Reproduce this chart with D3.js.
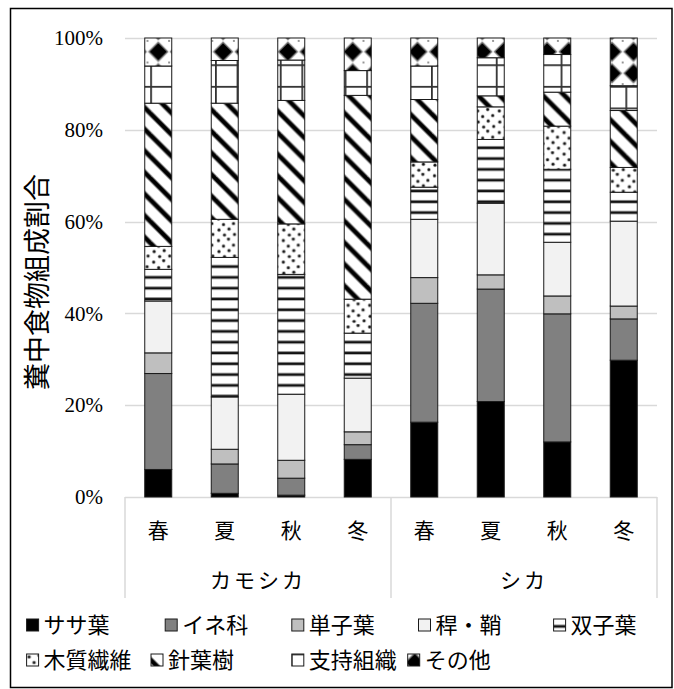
<!DOCTYPE html>
<html>
<head>
<meta charset="utf-8">
<script src="https://cdn.jsdelivr.net/npm/d3@7"></script>
<style>
  html, body { margin: 0; padding: 0; background: #fff; }
  svg { display: block; }
  .num { font-family: "Liberation Serif", "Times New Roman", serif; }
  .jp { font-family: "Noto Sans CJK JP", "Noto Sans CJK SC", sans-serif; }
</style>
</head>
<body>
<svg id="chart" width="674" height="689"></svg>
<script>
// Seasons within each animal group, and the groups themselves
const seasons = ["春", "夏", "秋", "冬"];
const species = ["カモシカ", "シカ"];

// Food component names, stacked bottom to top
const seriesNames = ["ササ葉", "イネ科", "単子葉", "稈・鞘", "双子葉", "木質繊維", "針葉樹", "支持組織", "その他"];

// Percent composition per bar: カモシカ 春夏秋冬, then シカ 春夏秋冬
const sasa      = [6.0, 0.8, 0.4, 8.2, 16.3, 20.8, 12.0, 29.8];
const ine       = [20.9, 6.4, 3.7, 3.2, 25.9, 24.5, 27.9, 9.0];
const tanshi    = [4.5, 3.2, 3.9, 2.8, 5.6, 3.1, 3.9, 2.8];
const kansho    = [11.3, 11.4, 14.4, 11.7, 12.7, 15.6, 11.7, 18.5];
const soushi    = [6.9, 30.4, 26.1, 9.8, 7.0, 13.9, 15.9, 6.3];
const mokushitsu= [5.0, 8.3, 11.0, 7.4, 5.5, 7.1, 9.4, 5.4];
const shinyou   = [31.2, 25.3, 26.9, 44.4, 13.6, 2.4, 7.4, 12.4];
const shiji     = [8.1, 9.3, 8.8, 5.4, 7.3, 8.3, 8.2, 5.4];
const sonota    = [6.1, 4.9, 4.8, 7.1, 6.1, 4.3, 3.6, 10.4];

// Y axis tick values (fraction of total)
const yTicks = [0, 0.2, 0.4, 0.6, 0.8, 1.0];

const seriesValues = [sasa, ine, tanshi, kansho, soushi, mokushitsu, shinyou, shiji, sonota];

// Build one row per bar for d3.stack
const rows = [];
species.forEach((sp, gi) => {
  seasons.forEach((se, si) => {
    const idx = gi * seasons.length + si;
    const row = { key: sp + "-" + se, species: sp, season: se };
    seriesNames.forEach((name, k) => { row[name] = seriesValues[k][idx]; });
    rows.push(row);
  });
});

const svg = d3.select("#chart");
const plotLeft = 125, plotRight = 657, plotTop = 38, plotBottom = 497;

const x = d3.scaleBand()
  .domain(rows.map(d => d.key))
  .range([plotLeft, plotRight])
  .paddingInner(0.594)
  .paddingOuter(0.297);

const y = d3.scaleLinear().domain([0, 1]).range([plotBottom, plotTop]);

// ---------- fill patterns ----------
const defs = svg.append("defs");
const T = 21.6; // tile size shared by the hatch patterns

// horizontal stripes (双子葉)
const pH = defs.append("pattern").attr("id", "pat-h")
  .attr("patternUnits", "userSpaceOnUse").attr("width", T).attr("height", T / 2)
  .attr("x", 0).attr("y", 265.7 - 1);
pH.append("rect").attr("width", T).attr("height", T / 2).attr("fill", "#fff");
pH.append("rect").attr("y", 0).attr("width", T).attr("height", 1).attr("fill", "#8a8a8a");
pH.append("rect").attr("y", 1).attr("width", T).attr("height", 2).attr("fill", "#111");
pH.append("rect").attr("y", 3).attr("width", T).attr("height", 0.8).attr("fill", "#aaa");

// dots (木質繊維)
const pD = defs.append("pattern").attr("id", "pat-dot")
  .attr("patternUnits", "userSpaceOnUse").attr("width", T).attr("height", T);
pD.append("rect").attr("width", T).attr("height", T).attr("fill", "#fff");
[[2.5, 3], [12.5, 1.5], [7.5, 8.5], [17.5, 7.5], [3, 14], [13, 13], [8.5, 19], [18.5, 18.5]]
  .forEach(([cx, cy]) => {
    pD.append("circle").attr("cx", cx).attr("cy", cy).attr("r", 1.9).attr("fill", "#999");
    pD.append("circle").attr("cx", cx).attr("cy", cy).attr("r", 1.2).attr("fill", "#111");
  });

// diagonal stripes (針葉樹)
const pG = defs.append("pattern").attr("id", "pat-diag")
  .attr("patternUnits", "userSpaceOnUse").attr("width", T).attr("height", T)
  .attr("x", 0).attr("y", 6.2);
pG.append("rect").attr("width", T).attr("height", T).attr("fill", "#fff");
[-1, 0, 1].forEach(k => {
  pG.append("line").attr("x1", -5).attr("y1", -5 + k * T).attr("x2", T + 5).attr("y2", T + 5 + k * T)
    .attr("stroke", "#777").attr("stroke-width", 5.6);
  pG.append("line").attr("x1", -5).attr("y1", -5 + k * T).attr("x2", T + 5).attr("y2", T + 5 + k * T)
    .attr("stroke", "#000").attr("stroke-width", 3.8);
});

// grid (支持組織)
const pS = defs.append("pattern").attr("id", "pat-grid")
  .attr("patternUnits", "userSpaceOnUse").attr("width", T).attr("height", T)
  .attr("x", 150.2).attr("y", 85.9);
pS.append("rect").attr("width", T).attr("height", T).attr("fill", "#fff");
pS.append("rect").attr("x", 0).attr("y", 0).attr("width", T).attr("height", 1.8).attr("fill", "#333");
pS.append("rect").attr("x", 0).attr("y", 0).attr("width", 1.8).attr("height", T).attr("fill", "#333");

// large diamonds (その他)
const pO = defs.append("pattern").attr("id", "pat-dia")
  .attr("patternUnits", "userSpaceOnUse").attr("width", T).attr("height", T)
  .attr("x", 158.3 - T / 2).attr("y", 51.7 - T / 2);
pO.append("rect").attr("width", T).attr("height", T).attr("fill", "#fff");
const h = T / 2, r = 9.6;
pO.append("path")
  .attr("d", `M${h},${h - r}L${h + r},${h}L${h},${h + r}L${h - r},${h}Z`)
  .attr("fill", "#000").attr("stroke", "#888").attr("stroke-width", 1.2);
[[0, 0], [T, 0], [0, T], [T, T]].forEach(([cx, cy]) => {
  pO.append("circle").attr("cx", cx).attr("cy", cy).attr("r", 0.9).attr("fill", "#666");
});

const fills = {
  "ササ葉": "#000000",
  "イネ科": "#808080",
  "単子葉": "#bfbfbf",
  "稈・鞘": "#f2f2f2",
  "双子葉": "url(#pat-h)",
  "木質繊維": "url(#pat-dot)",
  "針葉樹": "url(#pat-diag)",
  "支持組織": "url(#pat-grid)",
  "その他": "url(#pat-dia)"
};

// ---------- outer frame ----------
svg.append("rect").attr("x", 10.5).attr("y", 8.5).attr("width", 661.5).attr("height", 679)
  .attr("fill", "none").attr("stroke", "#000").attr("stroke-width", 1.5);

// ---------- gridlines ----------
svg.append("g").selectAll("line").data(yTicks).join("line")
  .attr("x1", plotLeft).attr("x2", plotRight)
  .attr("y1", d => Math.round(y(d)) + 0.5).attr("y2", d => Math.round(y(d)) + 0.5)
  .attr("stroke", "#d9d9d9").attr("stroke-width", 1.5);

// ---------- y axis labels ----------
const yAxis = d3.axisLeft(y).tickValues(yTicks).tickFormat(d3.format(".0%")).tickSize(0).tickPadding(0);
const gy = svg.append("g").attr("transform", `translate(103,0)`).call(yAxis);
gy.select(".domain").remove();
gy.selectAll("text").attr("class", "num").attr("font-size", 21).attr("fill", "#000")
  .attr("dy", "0.32em");

// ---------- stacked bars ----------
const stack = d3.stack().keys(seriesNames).value((d, k) => d[k] / 100);
const layers = stack(rows);

svg.append("g").selectAll("g").data(layers).join("g")
  .attr("fill", d => fills[d.key])
  .selectAll("rect").data(d => d).join("rect")
  .attr("x", d => x(d.data.key))
  .attr("width", x.bandwidth())
  .attr("y", d => y(d[1]))
  .attr("height", d => y(d[0]) - y(d[1]))
  .attr("stroke", "#1a1a1a").attr("stroke-width", 1);

// ---------- category axis (two levels) ----------
const catG = svg.append("g");
const groupEdges = [plotLeft, x(rows[4].key) - x.step() * x.paddingInner() / 2, plotRight];
catG.selectAll("line.div").data(groupEdges).join("line")
  .attr("x1", d => d).attr("x2", d => d)
  .attr("y1", plotBottom).attr("y2", 598)
  .attr("stroke", "#d9d9d9").attr("stroke-width", 1.5);

catG.selectAll("text.season").data(rows).join("text")
  .attr("class", "jp")
  .attr("x", d => x(d.key) + x.bandwidth() / 2)
  .attr("y", 538)
  .attr("text-anchor", "middle")
  .attr("font-size", 21)
  .attr("fill", "#000")
  .text(d => d.season);

catG.selectAll("text.species").data(species).join("text")
  .attr("class", "jp")
  .attr("x", (d, i) => (groupEdges[i] + groupEdges[i + 1]) / 2)
  .attr("y", 588)
  .attr("text-anchor", "middle")
  .attr("font-size", 21)
  .attr("letter-spacing", 3)
  .attr("fill", "#000")
  .text(d => d);

// ---------- y title ----------
svg.append("text").attr("class", "jp")
  .attr("transform", `translate(47,282) rotate(-90)`)
  .attr("text-anchor", "middle")
  .attr("font-size", 27)
  .attr("fill", "#000")
  .text("糞中食物組成割合");

// ---------- legend ----------
const legendPos = [
  [26.6, 619], [165.2, 619], [291.8, 619], [418.5, 619], [553.6, 619],
  [26.6, 654], [151, 654], [291.8, 654], [407.7, 654]
];
const lg = svg.append("g").selectAll("g").data(seriesNames).join("g")
  .attr("transform", (d, i) => `translate(${legendPos[i][0]},${legendPos[i][1]})`);
lg.append("rect")
  .attr("width", 12).attr("height", 12)
  .attr("fill", d => fills[d])
  .attr("stroke", "#1a1a1a").attr("stroke-width", 1);
lg.append("text").attr("class", "jp")
  .attr("x", 17).attr("y", 14)
  .attr("font-size", 22)
  .attr("fill", "#000")
  .text(d => d);
</script>
</body>
</html>
